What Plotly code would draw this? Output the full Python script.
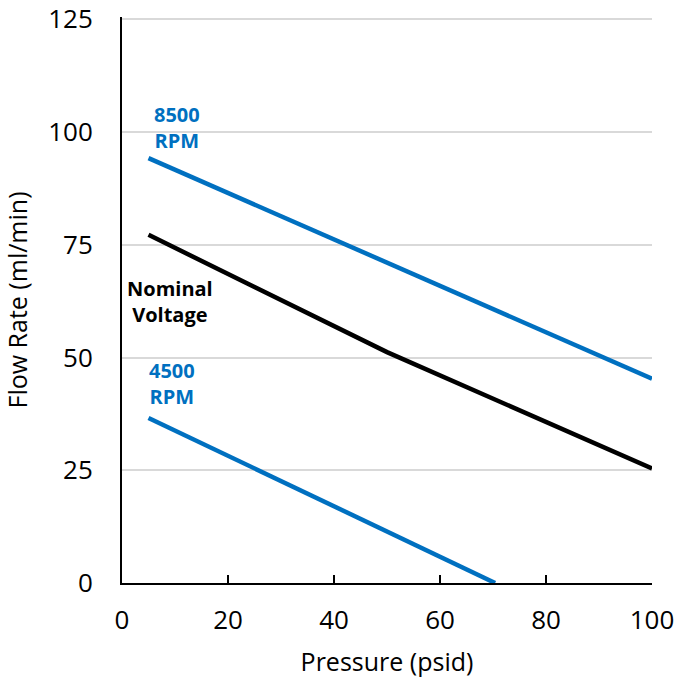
import plotly.graph_objects as go

# Data
pressure_8500 = [5, 100]
flow_8500 = [94.2, 45.3]
pressure_nominal = [5, 50, 100]
flow_nominal = [77.2, 51.2, 25.4]
pressure_4500 = [5, 70.4]
flow_4500 = [36.6, 0]

x_ticks = [0, 20, 40, 60, 80, 100]
y_ticks = [0, 25, 50, 75, 100, 125]

BLUE = "#0070C0"
FONT = "Open Sans"

fig = go.Figure()
fig.add_trace(go.Scatter(x=pressure_8500, y=flow_8500, mode="lines",
                         line=dict(color=BLUE, width=4.5), showlegend=False))
fig.add_trace(go.Scatter(x=pressure_nominal, y=flow_nominal, mode="lines",
                         line=dict(color="black", width=4.5), showlegend=False))
fig.add_trace(go.Scatter(x=pressure_4500, y=flow_4500, mode="lines",
                         line=dict(color=BLUE, width=4.5), showlegend=False))

ann_font = dict(family=FONT, size=20, color=BLUE)
fig.add_annotation(x=10.4, y=101.0, text="<b>8500<br>RPM</b>", showarrow=False,
                   font=ann_font, align="center")
fig.add_annotation(x=9.1, y=62.4, text="<b>Nominal<br>Voltage</b>", showarrow=False,
                   font=dict(family=FONT, size=20, color="black"), align="center")
fig.add_annotation(x=9.4, y=44.2, text="<b>4500<br>RPM</b>", showarrow=False,
                   font=ann_font, align="center")

fig.update_layout(
    width=676, height=681,
    margin=dict(l=122, r=24, t=17, b=98),
    plot_bgcolor="white", paper_bgcolor="white",
    font=dict(family=FONT, color="black"),
    xaxis=dict(range=[0, 100], tickvals=x_ticks, showgrid=False, zeroline=False,
               automargin=False, ticklabeloverflow="allow",
               showline=True, linecolor="black", linewidth=1.5,
               ticks="inside", ticklen=8, tickwidth=1.5, tickcolor="black",
               tickfont=dict(size=26), ticklabelstandoff=13,
               title=dict(text="Pressure (psid)", font=dict(size=25), standoff=18)),
    yaxis=dict(range=[0, 125.5], tickvals=y_ticks, showgrid=True, gridcolor="#D9D9D9",
               gridwidth=1.5, zeroline=False, automargin=False, ticklabeloverflow="allow",
               showline=True, linecolor="black", linewidth=2,
               ticks="", tickfont=dict(size=26), ticklabelstandoff=22,
               title=dict(text="Flow Rate (ml/min)", font=dict(size=25), standoff=21)),
)

fig.write_html("out.html", config={"displayModeBar": False},
               post_script="document.body.style.margin='0';document.body.style.overflow='hidden';")
